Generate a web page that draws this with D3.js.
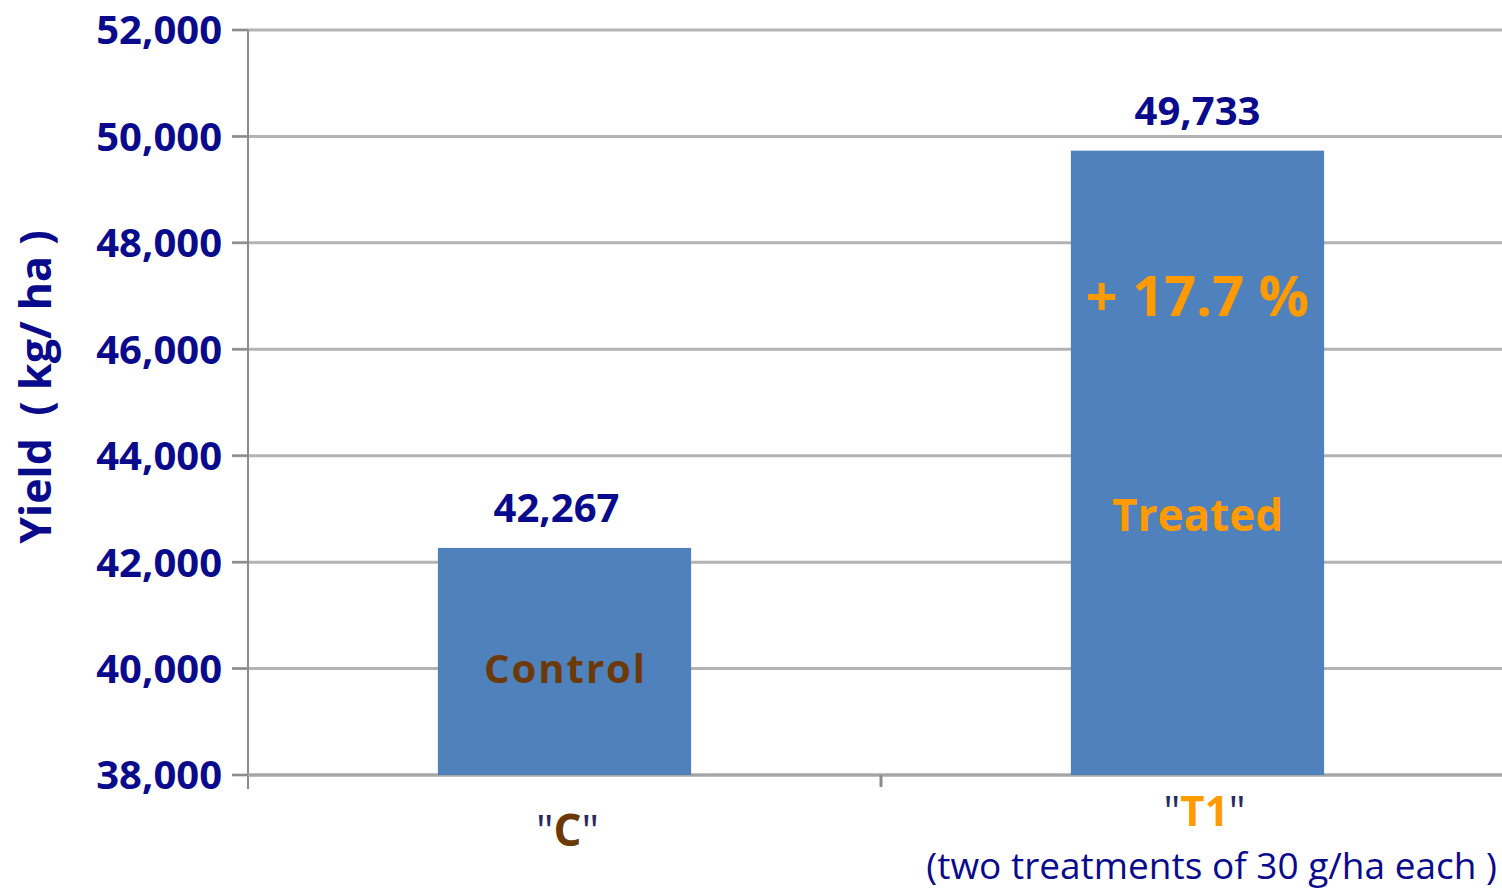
<!DOCTYPE html>
<html><head><meta charset="utf-8">
<script src="https://cdn.jsdelivr.net/npm/d3@7"></script>
<style>
html,body{margin:0;padding:0;background:#fff;}
text{font-family:"Open Sans",sans-serif;}
</style></head>
<body><svg id="c" width="1502" height="891"></svg>
<script>
const categories = ["C", "T1"];
const values = [42267, 49733];
const yTicks = [38000, 40000, 42000, 44000, 46000, 48000, 50000, 52000];
const barNames = ["Control", "Treated"];
const increaseLabel = "+ 17.7 %";
const subLabel = "(two treatments of 30 g/ha each )";
const yTitle = "Yield  ( kg/ ha )";

const navy = "#0a0a8c", brown = "#6b3a08", orange = "#ff9a00", barColor = "#4f81bd";
const svg = d3.select("#c");
const x0 = 248, x1 = 1514, yTop = 30, yBot = 775;

const y = d3.scaleLinear().domain([38000, 52000]).range([yBot, yTop]);
const x = d3.scaleBand().domain(categories).range([x0, x1]).paddingInner(0.6).paddingOuter(0.3);

// gridlines
svg.append("g").selectAll("line").data(yTicks).join("line")
  .attr("x1", x0 - 16).attr("x2", 1502)
  .attr("y1", d => y(d)).attr("y2", d => y(d))
  .attr("stroke", "#b3b3b3").attr("stroke-width", 3);

// y axis line
svg.append("line").attr("x1", x0).attr("x2", x0).attr("y1", yTop).attr("y2", yBot + 14)
  .attr("stroke", "#8c8c8c").attr("stroke-width", 2);
// tick marks on y axis
svg.append("g").selectAll("line").data(yTicks).join("line")
  .attr("x1", x0 - 16).attr("x2", x0)
  .attr("y1", d => y(d)).attr("y2", d => y(d))
  .attr("stroke", "#8c8c8c").attr("stroke-width", 2);
// x axis line
svg.append("line").attr("x1", x0).attr("x2", 1502).attr("y1", yBot).attr("y2", yBot)
  .attr("stroke", "#a6a6a6").attr("stroke-width", 3);
// middle category tick
const midX = (x(categories[0]) + x.bandwidth() + x(categories[1])) / 2;
svg.append("line").attr("x1", midX).attr("x2", midX).attr("y1", yBot).attr("y2", yBot + 12)
  .attr("stroke", "#8c8c8c").attr("stroke-width", 3);

// y tick labels
svg.append("g").selectAll("text").data(yTicks).join("text")
  .attr("x", x0 - 26).attr("y", d => y(d)).attr("dy", "0.36em")
  .attr("text-anchor", "end").attr("fill", navy)
  .attr("font-size", 40).attr("font-weight", 700)
  .text(d => d3.format(",")(d));

// bars
svg.append("g").selectAll("rect").data(values).join("rect")
  .attr("x", (d, i) => x(categories[i])).attr("width", x.bandwidth())
  .attr("y", d => y(d)).attr("height", d => yBot - y(d))
  .attr("fill", barColor);

// value labels
svg.append("g").selectAll("text").data(values).join("text")
  .attr("x", (d, i) => x(categories[i]) + x.bandwidth() / 2 - (i === 0 ? 8 : 0))
  .attr("y", d => y(d) - 26)
  .attr("text-anchor", "middle").attr("fill", navy)
  .attr("font-size", 40).attr("font-weight", 700)
  .text(d => d3.format(",")(d));

// in-bar names
const cx = i => x(categories[i]) + x.bandwidth() / 2;
svg.append("text").attr("x", cx(0) + 1).attr("y", y(40000) + 14)
  .attr("text-anchor", "middle").attr("fill", brown)
  .attr("font-size", 40).attr("font-weight", 700).attr("letter-spacing", 2)
  .text(barNames[0]);
svg.append("text").attr("x", cx(1)).attr("y", y(43000) + 22)
  .attr("text-anchor", "middle").attr("fill", orange)
  .attr("font-size", 44).attr("font-weight", 700)
  .text(barNames[1]);
svg.append("text").attr("x", cx(1)).attr("y", y(47000) + 20)
  .attr("text-anchor", "middle").attr("fill", orange)
  .attr("font-size", 56).attr("font-weight", 700)
  .text(increaseLabel);

// category labels
const catColors = [brown, orange];
categories.forEach((c, i) => {
  const t = svg.append("text").attr("x", cx(i) + (i === 0 ? 3 : 7)).attr("y", i === 0 ? 846 : 826)
    .attr("text-anchor", "middle").attr("font-size", i === 0 ? 44 : 42).attr("font-weight", 700);
  t.append("tspan").attr("fill", "#2a2a60").attr("font-weight", 400).text('"');
  t.append("tspan").attr("fill", catColors[i]).text(c);
  t.append("tspan").attr("fill", "#2a2a60").attr("font-weight", 400).text('"');
});
svg.append("text").attr("x", 1497).attr("y", 879).attr("text-anchor", "end")
  .attr("fill", navy).attr("font-size", 37).text(subLabel);

// y title
svg.append("text").attr("transform", "translate(51,387) rotate(-90)")
  .attr("text-anchor", "middle").attr("fill", navy)
  .attr("font-size", 43).attr("font-weight", 700)
  .attr("xml:space", "preserve").style("white-space", "pre")
  .text(yTitle);
</script></body></html>
